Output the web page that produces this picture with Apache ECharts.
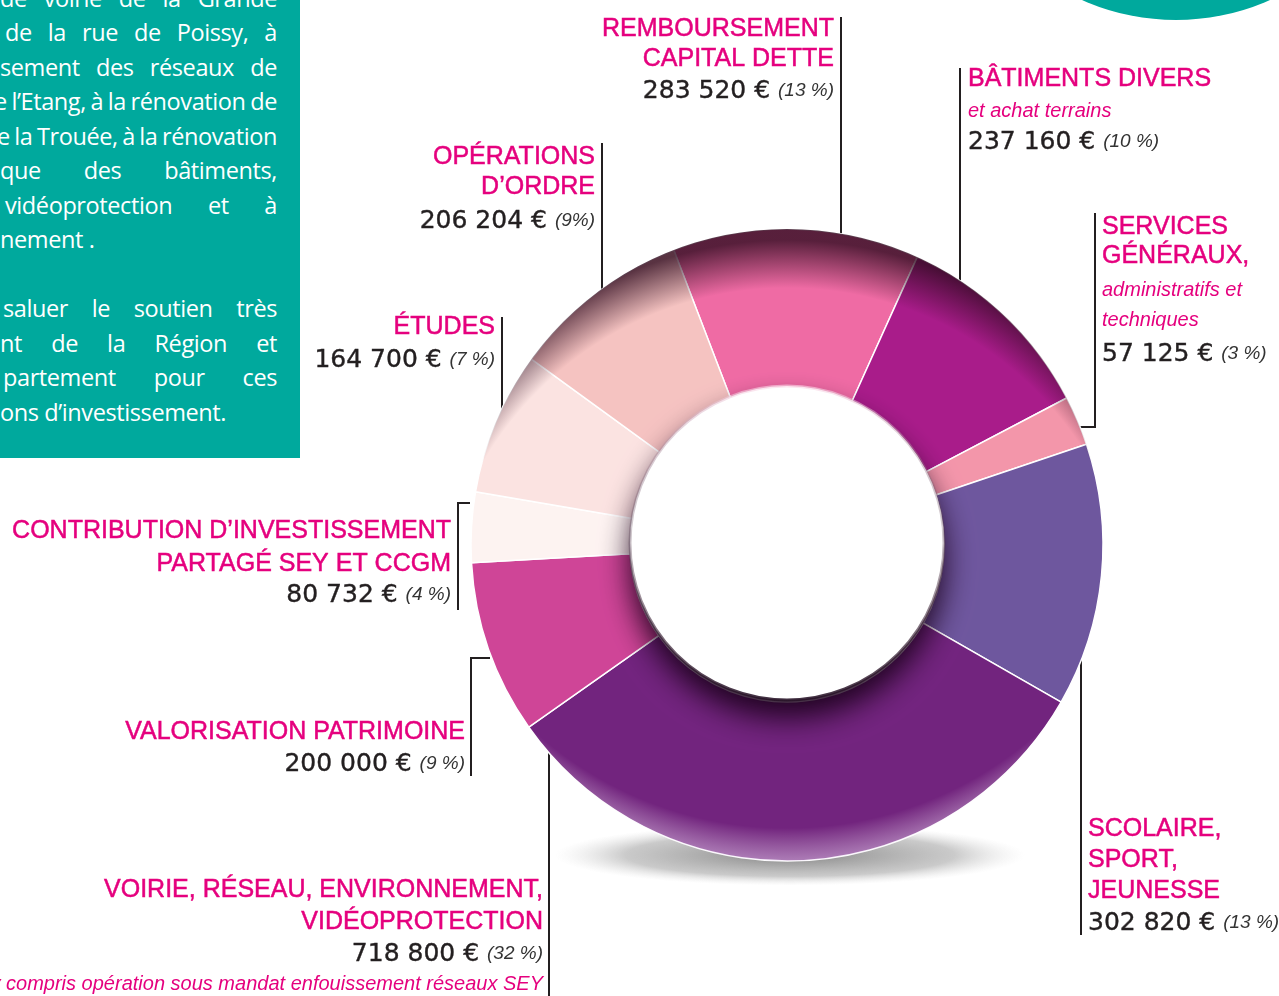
<!DOCTYPE html>
<html>
<head>
<meta charset="utf-8">
<script src="https://cdn.jsdelivr.net/npm/echarts@6/dist/echarts.min.js"></script>
<style>
  html, body { margin: 0; padding: 0; background: #fff; }
  #chart { position: absolute; left: 0; top: 0; width: 1279px; height: 996px; }
  .panel {
    position: absolute; left: 0; top: 0; width: 300px; height: 458px;
    background: #00a99d; overflow: hidden; color: #fff;
    font-family: "Open Sans", sans-serif; font-size: 23.5px;
  }
  .panel div {
    position: absolute; white-space: nowrap; line-height: 34px;
    text-align: justify; text-align-last: justify;
    letter-spacing: -0.4px; word-spacing: -4px;
  }
  .panel div.last { text-align: left; text-align-last: left; word-spacing: 0; }
</style>
</head>
<body>
<div id="chart"></div>
<div class="panel" id="panel"></div>
<script>
// données
const categories = [
  'REMBOURSEMENT\nCAPITAL DETTE',
  'BÂTIMENTS DIVERS',
  'SERVICES\nGÉNÉRAUX,',
  'SCOLAIRE,\nSPORT,\nJEUNESSE',
  'VOIRIE, RÉSEAU, ENVIRONNEMENT,\nVIDÉOPROTECTION',
  'VALORISATION PATRIMOINE',
  'CONTRIBUTION D’INVESTISSEMENT\nPARTAGÉ SEY ET CCGM',
  'ÉTUDES',
  'OPÉRATIONS\nD’ORDRE'
]
const values = [283520, 237160, 57125, 302820, 718800, 200000, 80732, 164700, 206204]
const percents = ['13 %', '10 %', '3 %', '13 %', '32 %', '9 %', '4 %', '7 %', '9%']
const notes = ['', 'et achat terrains', 'administratifs et\ntechniques', '',
  'y compris opération sous mandat enfouissement réseaux SEY', '', '', '', '']
const colors = ['#ef6ba4', '#a91c8a', '#f396aa', '#6e579e', '#72247e',
  '#cf4597', '#fdf3f1', '#fbe3e1', '#f5c3c1']

// mise en page des étiquettes (x, lignes de base, traits)
const layout = [
  { x: 834, align: 'right', ys: [37, 67, 99], line: [[841, 17], [841, 402]] },
  { x: 968, align: 'left', ys: [87, 119, 150], line: [[960, 68], [960, 300]] },
  { x: 1102, align: 'left', ys: [235, 264, 298, 328, 362], line: [[1095, 213], [1095, 427], [1078, 427]] },
  { x: 1088, align: 'left', ys: [837, 868, 899, 931], line: [[1081, 660], [1081, 935]] },
  { x: 543, align: 'right', ys: [898, 930, 962, 992], line: [[549, 730], [549, 996]], noteAfter: true },
  { x: 465, align: 'right', ys: [740, 772], line: [[490, 658], [471, 658], [471, 776]] },
  { x: 451, align: 'right', ys: [539, 572, 603], line: [[470, 503], [458, 503], [458, 610]] },
  { x: 495, align: 'right', ys: [335, 368], line: [[502, 317], [502, 490]] },
  { x: 595, align: 'right', ys: [165, 195, 229], line: [[602, 143], [602, 412]] }
]

const panelLines = [
  ['de voirie de la Grande', 0, 7],
  ['de la rue de Poissy, à', 5, 41],
  ['sement des réseaux de', 0, 75.5],
  ['e l’Etang, à la rénovation de', -6, 110],
  ['e la Trouée, à la rénovation', -3, 144.5],
  ['que des bâtiments,', 0, 179],
  ['vidéoprotection et à', 5, 213.5],
  ['nement .', 0, 248, true],
  ['saluer le soutien très', 3, 317],
  ['nt de la Région et', 0, 351.5],
  ['partement pour ces', 3, 386],
  ['ons d’investissement.', 0, 420.5, true]
]

const pink = '#e5007e'
const dark = '#231f20'

function fmt(n) {
  return String(n).replace(/\B(?=(\d{3})+(?!\d))/g, ' ')
}

// panneau de texte
const panel = document.getElementById('panel')
panelLines.forEach(([t, left, base, last]) => {
  const d = document.createElement('div')
  d.textContent = t
  d.style.left = left + 'px'
  d.style.width = (277 - left) + 'px'
  d.style.top = (base - 26) + 'px'
  if (last) d.className = 'last'
  panel.appendChild(d)
})

const elements = []

elements.push({
  type: 'circle', z: 0,
  shape: { cx: 1176, cy: -211, r: 231 },
  style: { fill: '#00a99d' }
})

// ombre sous l'anneau
elements.push({
  type: 'circle', z: 0,
  x: 790, y: 855, scaleY: 0.13,
  shape: { cx: 0, cy: 0, r: 235 },
  style: {
    fill: {
      type: 'radial', x: 0.5, y: 0.5, r: 0.5,
      colorStops: [
        { offset: 0, color: 'rgba(100,100,100,0.8)' },
        { offset: 0.7, color: 'rgba(150,150,150,0.5)' },
        { offset: 1, color: 'rgba(210,210,210,0)' }
      ]
    }
  }
})

layout.forEach((l, i) => {
  elements.push({
    type: 'polyline', z: 0,
    shape: { points: l.line },
    style: { stroke: dark, lineWidth: 2, fill: null }
  })

  const rows = categories[i].split('\n').map(t => ({ text: t, kind: 'title' }))
  const noteRows = notes[i] ? notes[i].split('\n').map(t => ({ text: t, kind: 'note' })) : []
  const valueRow = { text: '{v|' + fmt(values[i]) + ' € }{p|(' + percents[i] + ')}', kind: 'value' }
  if (l.noteAfter) rows.push(valueRow, ...noteRows)
  else rows.push(...noteRows, valueRow)

  rows.forEach((r, k) => {
    const base = l.ys[k]
    let style
    if (r.kind === 'title') {
      style = { text: r.text, fill: pink, stroke: pink, lineWidth: 0.5, font: '25px "Liberation Sans", Arial, sans-serif' }
    } else if (r.kind === 'note') {
      style = { text: r.text, fill: pink, font: 'italic 20px "Liberation Sans", Arial, sans-serif' }
    } else {
      style = {
        text: r.text,
        rich: {
          v: { fill: dark, stroke: dark, lineWidth: 0.4, font: '25px "DejaVu Sans", sans-serif' },
          p: { fill: '#333', font: 'italic 19px "Liberation Sans", Arial, sans-serif' }
        }
      }
    }
    style.align = l.align
    style.verticalAlign = 'middle'
    elements.push({ type: 'text', z: 10, x: l.x, y: base - 8, style })
  })
})

// trou central avec ombre portée
elements.push({
  type: 'circle', z: 5,
  shape: { cx: 787, cy: 543, r: 157 },
  style: {
    fill: '#fff',
    shadowBlur: 30, shadowColor: 'rgba(25,0,25,0.95)', shadowOffsetY: 18
  }
})
elements.push({
  type: 'circle', z: 6,
  shape: { cx: 787, cy: 543, r: 157 },
  style: {
    fill: null, lineWidth: 3,
    stroke: {
      type: 'linear', x: 0, y: 0, x2: 0, y2: 1,
      colorStops: [
        { offset: 0, color: 'rgba(255,220,235,0.6)' },
        { offset: 0.45, color: 'rgba(80,50,70,0.25)' },
        { offset: 1, color: 'rgba(40,20,40,0.9)' }
      ]
    }
  }
})

const chart = echarts.init(document.getElementById('chart'))

const ringBase = {
  type: 'pie',
  center: [787, 545],
  radius: [157, 316],
  label: { show: false },
  labelLine: { show: false },
  emphasis: { disabled: true },
  tooltip: { show: false }
}

chart.setOption({
  animation: false,
  series: [
    {
      ...ringBase,
      name: 'Investissements',
      startAngle: 111,
      itemStyle: { borderColor: '#fff', borderWidth: 1.5 },
      data: categories.map((c, i) => ({ name: c, value: values[i], itemStyle: { color: colors[i] } }))
    },
    {
      ...ringBase,
      silent: true,
      data: [{
        value: 1,
        itemStyle: {
          color: {
            type: 'radial', x: 787, y: 640, r: 400, global: true,
            colorStops: [
              { offset: 0, color: 'rgba(45,10,30,0)' },
              { offset: 0.88, color: 'rgba(45,10,30,0)' },
              { offset: 1, color: 'rgba(45,10,30,0.78)' }
            ]
          }
        }
      }]
    },
    {
      ...ringBase,
      silent: true,
      data: [{
        value: 1,
        itemStyle: {
          color: {
            type: 'radial', x: 787, y: 450, r: 420, global: true,
            colorStops: [
              { offset: 0, color: 'rgba(255,255,255,0)' },
              { offset: 0.9, color: 'rgba(255,255,255,0)' },
              { offset: 1, color: 'rgba(235,215,245,0.6)' }
            ]
          }
        }
      }]
    }
  ],
  graphic: { elements }
})
</script>
</body>
</html>
